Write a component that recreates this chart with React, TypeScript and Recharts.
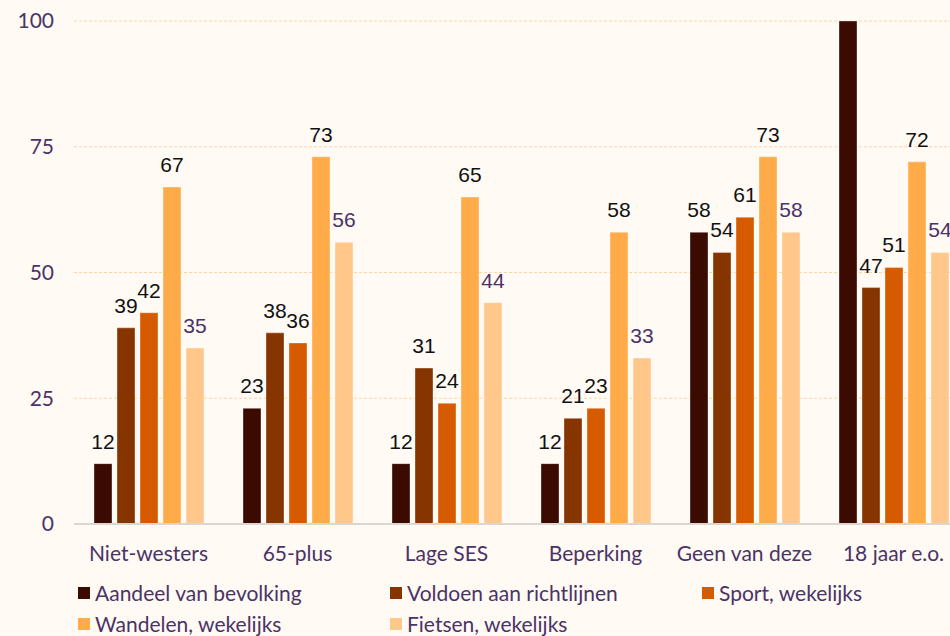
import { Bar, BarChart, CartesianGrid, LabelList, Legend, XAxis, YAxis } from 'recharts';

const categories = ['Niet-westers', '65-plus', 'Lage SES', 'Beperking', 'Geen van deze', '18 jaar e.o.'];
const aandeel = [12, 23, 12, 12, 58, 100];
const voldoen = [39, 38, 31, 21, 54, 47];
const sport = [42, 36, 24, 23, 61, 51];
const wandelen = [67, 73, 65, 58, 73, 72];
const fietsen = [35, 56, 44, 33, 58, 54];
const yTicks = [0, 25, 50, 75, 100];

const PURPLE = '#4a3367';
const BG = '#fffaf4';

const series = [
  { key: 'aandeel', name: 'Aandeel van bevolking', color: '#3b0a00', labelColor: '#111111' },
  { key: 'voldoen', name: 'Voldoen aan richtlijnen', color: '#873500', labelColor: '#111111' },
  { key: 'sport', name: 'Sport, wekelijks', color: '#d65b00', labelColor: '#111111' },
  { key: 'wandelen', name: 'Wandelen, wekelijks', color: '#ffab4a', labelColor: '#111111' },
  { key: 'fietsen', name: 'Fietsen, wekelijks', color: '#ffc88a', labelColor: PURPLE },
];

const data = categories.map((name, i) => ({
  name,
  aandeel: aandeel[i],
  voldoen: voldoen[i],
  sport: sport[i],
  wandelen: wandelen[i],
  fietsen: fietsen[i],
}));

const tickStyle = { fontFamily: 'Lato', fontSize: 21, fill: PURPLE };

function makeLabel(color: string) {
  return (props: any) => {
    const { x, y, width, value } = props;
    // the 100 label falls outside the picture in the original
    if (value >= 100) return null;
    return (
      <text
        x={Number(x) + Number(width) / 2}
        y={Number(y) - 15}
        textAnchor='middle'
        fill={color}
        style={{ fontFamily: 'Liberation Sans, Arial, sans-serif', fontSize: 21 }}
      >
        {value}
      </text>
    );
  };
}

function LegendBox() {
  return (
    <div
      style={{
        height: 76,
        boxSizing: 'border-box',
        paddingTop: 3,
        paddingLeft: 78,
        display: 'grid',
        gridTemplateColumns: '312px 312px 312px',
        gridAutoRows: '31px',
        fontFamily: 'Lato',
        fontSize: 21,
        color: PURPLE,
      }}
    >
      {series.map(s => (
        <div key={s.key} style={{ display: 'flex', alignItems: 'center', whiteSpace: 'nowrap' }}>
          <span style={{ width: 12, height: 12, background: s.color, marginRight: 5, display: 'inline-block' }} />
          {s.name}
        </div>
      ))}
    </div>
  );
}

export default function App() {
  return (
    <div
      style={{
        position: 'fixed',
        left: 0,
        top: 0,
        width: 950,
        height: 636,
        overflow: 'hidden',
        background: BG,
      }}
    >
      <BarChart
        width={980}
        height={650}
        data={data}
        margin={{ top: 21, right: 12, left: 0, bottom: 0 }}
        barSize={18}
        barGap={5}
      >
        <CartesianGrid vertical={false} stroke='#fcd5a6' strokeDasharray='3 2' />
        <XAxis
          dataKey='name'
          height={50}
          tick={tickStyle}
          tickLine={false}
          tickSize={0}
          tickMargin={22}
          axisLine={{ stroke: '#dcd6d0', strokeWidth: 2 }}
          interval={0}
        />
        <YAxis
          width={74}
          domain={[0, 100]}
          ticks={yTicks}
          tick={tickStyle}
          tickLine={false}
          tickSize={0}
          tickMargin={20}
          axisLine={false}
        />
        <Legend
          verticalAlign='bottom'
          content={() => <LegendBox />}
          wrapperStyle={{ left: 0, width: 980 }}
        />
        {series.map(s => (
          <Bar
            key={s.key}
            dataKey={s.key}
            name={s.name}
            fill={s.color}
            stroke='rgba(255,255,255,0.35)'
            strokeWidth={1}
            isAnimationActive={false}
          >
            <LabelList dataKey={s.key} content={makeLabel(s.labelColor)} />
          </Bar>
        ))}
      </BarChart>
    </div>
  );
}
